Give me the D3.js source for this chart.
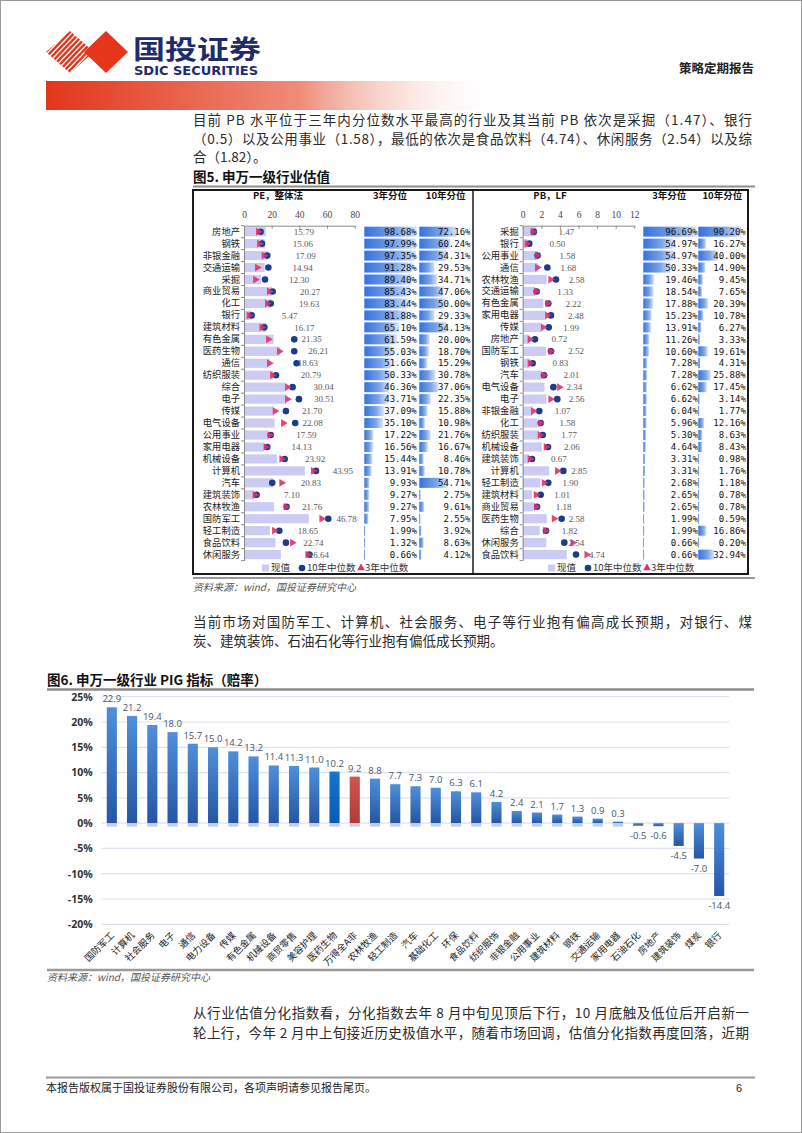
<!DOCTYPE html>
<html><head><meta charset="utf-8">
<script src="https://cdn.jsdelivr.net/npm/d3@7"></script>
<style>body{margin:0;background:#fff}svg{display:block}</style>
</head><body>
<script>
// ---------- DATA ----------
const peCats=["房地产","钢铁","非银金融","交通运输","采掘","商业贸易","化工","银行","建筑材料","有色金属","医药生物","通信","纺织服装","综合","电子","传媒","电气设备","公用事业","家用电器","机械设备","计算机","汽车","建筑装饰","农林牧渔","国防军工","轻工制造","食品饮料","休闲服务"];
const peNow=[15.79,15.06,17.09,14.94,12.30,20.27,19.63,5.47,16.17,21.35,26.21,18.63,20.79,30.04,30.51,21.70,22.08,17.59,14.13,23.92,43.95,20.83,7.10,21.76,46.78,18.65,22.74,26.64];
const peMed10=[12.0,13.0,16.8,17.6,15.2,20.7,19.3,5.5,14.7,36.3,36.3,38.0,23.1,35.1,39.7,30.3,37.0,19.3,16.8,29.4,52.0,20.4,9.1,30.8,60.9,25.5,30.3,47.2];
const peMed3=[10.3,11.1,14.4,9.6,8.2,18.3,16.8,3.6,12.8,17.6,25.5,18.3,20.5,31.3,31.3,22.4,28.4,18.8,15.7,27.2,50.0,27.2,7.9,30.3,56.1,21.9,34.9,46.0];
const pePct3=[98.68,97.99,97.35,91.28,89.40,85.43,83.44,81.88,65.10,61.59,55.03,51.66,50.33,46.36,43.71,37.09,35.10,17.22,16.56,15.44,13.91,9.93,9.27,9.27,7.95,1.99,1.32,0.66];
const pePct10=[72.16,60.24,54.31,29.53,34.71,47.06,50.00,29.33,54.13,20.00,18.70,15.29,30.78,37.06,22.35,15.88,10.98,21.76,16.67,8.46,10.78,54.71,2.75,9.61,2.55,3.92,8.63,4.12];
const peTicks=[0,20,40,60,80];

const pbCats=["采掘","银行","公用事业","通信","农林牧渔","交通运输","有色金属","家用电器","传媒","房地产","国防军工","钢铁","汽车","电气设备","电子","非银金融","化工","纺织服装","机械设备","建筑装饰","计算机","轻工制造","建筑材料","商业贸易","医药生物","综合","休闲服务","食品饮料"];
const pbNow=[1.47,0.50,1.58,1.68,2.58,1.33,2.22,2.48,1.99,0.72,2.52,0.83,2.01,2.34,2.56,1.07,1.58,1.77,2.06,0.67,2.85,1.90,1.01,1.18,2.58,1.82,2.54,4.74];
const pbMed10=[1.2,0.71,1.6,2.65,3.58,1.5,2.75,3.04,2.8,1.32,3.04,1.07,2.29,3.3,3.72,1.78,1.93,2.15,2.72,1.0,4.37,2.75,1.93,1.55,4.19,2.5,4.47,5.73];
const pbMed3=[1.1,0.45,1.55,1.57,3.0,1.45,2.7,2.65,2.2,0.78,3.0,0.78,2.25,3.94,3.0,1.14,1.9,1.86,2.5,0.78,3.72,2.29,1.43,1.45,3.37,2.45,5.38,6.88];
const pbPct3=[96.69,54.97,54.97,50.33,19.46,18.54,17.88,15.23,13.91,11.26,10.60,7.28,7.28,6.62,6.62,6.04,5.96,5.30,4.64,3.31,3.31,2.68,2.65,2.65,1.99,1.99,0.66,0.66];
const pbPct10=[90.20,16.27,40.00,14.90,9.45,7.65,20.39,10.78,6.27,3.33,19.61,4.31,25.88,17.45,3.14,1.77,12.16,8.63,8.43,0.98,1.76,1.18,0.78,0.78,0.59,16.86,0.20,32.94];
const pbTicks=[0,2,4,6,8,10,12];

const pigCats=["国防军工","计算机","社会服务","电子","通信","电力设备","传媒","有色金属","机械设备","商贸零售","美容护理","医药生物","万得全A非","农林牧渔","轻工制造","汽车","基础化工","环保","食品饮料","纺织服饰","非银金融","公用事业","建筑材料","钢铁","交通运输","家用电器","石油石化","房地产","建筑装饰","煤炭","银行"];
const pigVals=[22.9,21.2,19.4,18.0,15.7,15.0,14.2,13.2,11.4,11.3,11.0,10.2,9.2,8.8,7.7,7.3,7.0,6.3,6.1,4.2,2.4,2.1,1.7,1.3,0.9,0.3,-0.5,-0.6,-4.5,-7.0,-14.4];
const pigTicks=[25,20,15,10,5,0,-5,-10,-15,-20];

// ---------- SETUP ----------
const CJK='"Noto Sans CJK SC","Noto Sans",sans-serif';
const svg=d3.select("body").append("svg").attr("width",802).attr("height",1133);
svg.append("rect").attr("x",0.5).attr("y",0.5).attr("width",801).attr("height",1132).attr("fill","#fff").attr("stroke","#9a9a9a");
const defs=svg.append("defs");
function lg(id,stops,x2,y2){const g=defs.append("linearGradient").attr("id",id).attr("x1",0).attr("y1",0).attr("x2",x2).attr("y2",y2);
  stops.forEach(s=>g.append("stop").attr("offset",s[0]).attr("stop-color",s[1]).attr("stop-opacity",s[2]==null?1:s[2]));}
lg("hdr",[[0,"#e2361a"],[0.55,"#ef8b78"],[1,"#ffffff",0]],1,0);
lg("pct",[[0,"#3573dc"],[0.6,"#7aa3e9"],[1,"#d6e3f9"]],1,0);
lg("pigB",[[0,"#4f8fdc"],[1,"#2456a3"]],0,1);
lg("pigM",[[0,"#1674cf"],[1,"#0b5aae"]],0,1);
lg("pigR",[[0,"#cf5651"],[1,"#b03d39"]],0,1);

// ---------- HEADER ----------
const logoRed="#e5361b";
defs.append("clipPath").attr("id","stripeClip").append("polygon").attr("points","46,52 70,31 94,52 70,73");
const sg=svg.append("g").attr("clip-path","url(#stripeClip)");
d3.range(-10,16).forEach(i=>{const bx=30+i*5.2;
  sg.append("line").attr("x1",bx).attr("y1",74).attr("x2",bx+42).attr("y2",30).attr("stroke",logoRed).attr("stroke-width",2.4);});
svg.append("polygon").attr("points","84,52 106,31 128,52 106,73").attr("fill",logoRed);
svg.append("text").attr("x",133).attr("y",58.5).attr("font-family",CJK).attr("font-weight","bold").attr("font-size",26)
  .attr("fill","#1e2b6c").attr("textLength",128).attr("lengthAdjust","spacingAndGlyphs").text("国投证券");
svg.append("text").attr("x",134).attr("y",74.5).attr("font-family",'"DejaVu Sans Condensed","DejaVu Sans",sans-serif').attr("font-weight","bold").attr("font-size",12)
  .attr("fill","#1e2b6c").attr("textLength",124).attr("lengthAdjust","spacingAndGlyphs").text("SDIC SECURITIES");
svg.append("text").attr("x",754).attr("y",72.5).attr("text-anchor","end").attr("font-family",CJK).attr("font-weight","bold").attr("font-size",12.5).attr("fill","#222").text("策略定期报告");
svg.append("rect").attr("x",46).attr("y",81).attr("width",460).attr("height",29).attr("fill","url(#hdr)");

function para(lines,x,y0,lh,w,fs){
  lines.forEach((l,i)=>{const t=svg.append("text").attr("x",x).attr("y",y0+i*lh).attr("font-family",CJK).attr("font-size",fs||13.5).attr("fill","#2a2a2a").text(l[0]);
    if(l[1]) t.attr("textLength",w).attr("lengthAdjust","spacing");});
}
para([["目前 PB 水平位于三年内分位数水平最高的行业及其当前 PB 依次是采掘（1.47）、银行",1],
      ["（0.5）以及公用事业（1.58），最低的依次是食品饮料（4.74）、休闲服务（2.54）以及综",1],
      ["合（1.82）。",0]],193,125,18.7,559);
svg.append("text").attr("x",193).attr("y",181.5).attr("font-family",CJK).attr("font-weight","bold").attr("font-size",13.5).attr("fill","#111").text("图5. 申万一级行业估值");
svg.append("line").attr("x1",193).attr("x2",755).attr("y1",186.5).attr("y2",186.5).attr("stroke","#8c8c8c").attr("stroke-width",2);

// ---------- FIGURE 5 ----------
svg.append("rect").attr("x",193).attr("y",190).attr("width",555).attr("height",384).attr("fill","#fff").attr("stroke","#1a1a1a").attr("stroke-width",2);
svg.append("line").attr("x1",473).attr("x2",473).attr("y1",190).attr("y2",574).attr("stroke","#1a1a1a").attr("stroke-width",1.5);
svg.append("line").attr("x1",193).attr("x2",755).attr("y1",578).attr("y2",578).attr("stroke","#9a9a9a").attr("stroke-width",2);

function panel(c){
  const g=svg.append("g");
  const y=d3.scaleBand().domain(c.cats).range([225.7,560.6]);
  const x=d3.scaleLinear().domain([0,c.max]).range([c.x0,c.x1]);
  const mid=d=>y(d)+y.bandwidth()/2;
  const hdr=(t,xx)=>g.append("text").attr("x",xx).attr("y",198.5).attr("text-anchor","middle").attr("font-family",CJK).attr("font-weight","bold").attr("font-size",9.5).attr("fill","#111").text(t);
  hdr(c.title,c.titleX); hdr("3年分位",c.h3); hdr("10年分位",c.h10);
  g.selectAll(".cur").data(c.cats).join("rect").attr("x",x(0)).attr("y",d=>mid(d)-4.6).attr("height",9.2)
    .attr("width",(d,i)=>x(c.now[i])-x(0)).attr("fill","#cbcbf3");
  const ax=g.append("g").attr("transform","translate(0,225.7)").call(d3.axisTop(x).tickValues(c.ticks).tickSizeInner(-3).tickSizeOuter(0).tickPadding(8));
  ax.selectAll("path,line").attr("stroke","#8a8a8a");
  ax.selectAll("text").attr("font-family",'"Liberation Serif",serif').attr("font-size",9.5).attr("fill","#444");
  const ay=g.append("g").attr("transform",`translate(${c.x0},0)`).call(d3.axisLeft(y).tickSize(0).tickPadding(4));
  ay.select("path").attr("stroke","#8a8a8a");
  ay.selectAll("text").attr("font-family",CJK).attr("font-size",9.3).attr("fill","#222");
  g.selectAll(".tk").data(d3.range(c.cats.length+1)).join("line").attr("x1",c.x0-3).attr("x2",c.x0)
    .attr("y1",i=>225.7+i*y.step()).attr("y2",i=>225.7+i*y.step()).attr("stroke","#8a8a8a");
  g.selectAll(".m10").data(c.cats).join("circle").attr("cx",(d,i)=>x(c.m10[i])).attr("cy",mid).attr("r",3.3).attr("fill","#1b3b8b");
  const tri=d3.symbol(d3.symbolTriangle,26);
  g.selectAll(".m3").data(c.cats).join("path").attr("d",tri).attr("fill","#e3306a").attr("fill-opacity",0.9)
    .attr("transform",(d,i)=>`translate(${x(c.m3[i])},${mid(d)}) rotate(90)`);
  g.selectAll(".vl").data(c.cats).join("text").attr("x",(d,i)=>x(c.now[i])+c.lblOff).attr("y",mid).attr("dy","0.35em")
    .attr("text-anchor","middle").attr("font-family",'"Liberation Serif",serif').attr("font-size",9).attr("fill","#5a5a5a")
    .text((d,i)=>c.now[i].toFixed(2));
  [[c.p3,c.b3x,c.b3w],[c.p10,c.b10x,c.b10w]].forEach(([vals,bx,bw])=>{
    const s=d3.scaleLinear().domain([0,100]).range([0,bw]);
    g.selectAll(null).data(c.cats).join("rect").attr("x",bx).attr("y",d=>mid(d)-5).attr("height",10)
      .attr("width",(d,i)=>Math.max(1,s(vals[i]))).attr("fill","url(#pct)");
    g.selectAll(null).data(c.cats).join("text").attr("x",bx+bw-0.5).attr("y",mid).attr("dy","0.36em").attr("text-anchor","end")
      .attr("font-family",'"DejaVu Sans Mono","Liberation Mono",monospace').attr("font-size",9).attr("fill","#111")
      .text((d,i)=>vals[i].toFixed(2)+"%");
  });
  const lgd=g.append("g").attr("transform",`translate(${c.legX},568)`);
  lgd.append("rect").attr("x",0).attr("y",-3.5).attr("width",7).attr("height",7).attr("fill","#cbcbf3");
  lgd.append("text").attr("x",9).attr("dy","0.36em").attr("font-family",CJK).attr("font-size",9.5).attr("fill","#333").text("现值");
  lgd.append("circle").attr("cx",40).attr("r",3.3).attr("fill","#1b3b8b");
  lgd.append("text").attr("x",45).attr("dy","0.36em").attr("font-family",CJK).attr("font-size",9.5).attr("fill","#333").text("10年中位数");
  lgd.append("path").attr("d",d3.symbol(d3.symbolTriangle,26)).attr("transform","translate(99,0)").attr("fill","#e3306a");
  lgd.append("text").attr("x",103).attr("dy","0.36em").attr("font-family",CJK).attr("font-size",9.5).attr("fill","#333").text("3年中位数");
}
panel({cats:peCats,now:peNow,m10:peMed10,m3:peMed3,p3:pePct3,p10:pePct10,max:80,ticks:peTicks,x0:244,x1:354.7,
  title:"PE，整体法",titleX:278,h3:390,h10:445.7,b3x:364.3,b3w:53,b10x:419.3,b10w:51.7,lblOff:38,legX:262});
panel({cats:pbCats,now:pbNow,m10:pbMed10,m3:pbMed3,p3:pbPct3,p10:pbPct10,max:12,ticks:pbTicks,x0:522.7,x1:634.3,
  title:"PB，LF",titleX:550,h3:669.3,h10:722.3,b3x:643.3,b3w:55,b10x:698.3,b10w:48,lblOff:30,legX:548});

svg.append("text").attr("x",193).attr("y",591).attr("font-family",CJK).attr("font-style","italic").attr("font-size",10).attr("fill","#555").text("资料来源：wind，国投证券研究中心");

para([["当前市场对国防军工、计算机、社会服务、电子等行业抱有偏高成长预期，对银行、煤",1],
      ["炭、建筑装饰、石油石化等行业抱有偏低成长预期。",0]],193,627,19.3,559);

// ---------- FIGURE 6 ----------
svg.append("text").attr("x",47).attr("y",685).attr("font-family",CJK).attr("font-weight","bold").attr("font-size",13.5).attr("fill","#111").text("图6. 申万一级行业 PIG 指标（赔率）");
svg.append("line").attr("x1",47).attr("x2",754).attr("y1",689.5).attr("y2",689.5).attr("stroke","#8c8c8c").attr("stroke-width",2.5);

const xb=d3.scaleBand().domain(pigCats).range([101.7,729.3]).paddingInner(0.5).paddingOuter(0.25);
const yb=d3.scaleLinear().domain([-20,25]).range([924.3,696.7]);
const f6=svg.append("g");
f6.selectAll(".grid").data(pigTicks).join("line").attr("x1",101.7).attr("x2",729.3).attr("y1",d=>yb(d)).attr("y2",d=>yb(d))
  .attr("stroke","#dce3ef").attr("stroke-width",1.2);
const yax=f6.append("g").attr("transform","translate(101.7,0)").call(d3.axisLeft(yb).tickValues(pigTicks).tickSize(0).tickPadding(9).tickFormat(d=>d+"%"));
yax.select("path").remove();
yax.selectAll("text").attr("font-family",'"Open Sans",sans-serif').attr("font-weight","bold").attr("font-size",10.5).attr("fill","#333");
f6.selectAll(".refl").data(pigCats.filter((d,i)=>pigVals[i]>0)).join("rect").attr("x",d=>xb(d)).attr("width",xb.bandwidth())
  .attr("y",yb(0)+0.5).attr("height",3).attr("fill","#c3cfe4");
f6.selectAll(".bar").data(pigCats).join("rect").attr("x",d=>xb(d)).attr("width",xb.bandwidth())
  .attr("y",(d,i)=>yb(Math.max(0,pigVals[i]))).attr("height",(d,i)=>Math.abs(yb(pigVals[i])-yb(0)))
  .attr("fill",(d,i)=>d==="万得全A非"?"url(#pigR)":(d==="医药生物"?"url(#pigM)":"url(#pigB)"));
f6.selectAll(".val").data(pigCats).join("text").attr("x",d=>xb(d)+xb.bandwidth()/2)
  .attr("y",(d,i)=>pigVals[i]>=0?yb(pigVals[i])-5:yb(pigVals[i])+13).attr("text-anchor","middle")
  .attr("font-family",'"Open Sans",sans-serif').attr("font-size",9.5).attr("fill","#44546a").text((d,i)=>pigVals[i].toFixed(1));
f6.selectAll(".xl").data(pigCats).join("text")
  .attr("transform",d=>`translate(${xb(d)+xb.bandwidth()/2+3},936) rotate(-45)`).attr("text-anchor","end")
  .attr("font-family",CJK).attr("font-size",9.3).attr("fill","#222").text(d=>d);
svg.append("line").attr("x1",47).attr("x2",754).attr("y1",970).attr("y2",970).attr("stroke","#9a9a9a").attr("stroke-width",2.5);
svg.append("text").attr("x",47).attr("y",981).attr("font-family",CJK).attr("font-style","italic").attr("font-size",10).attr("fill","#555").text("资料来源：wind，国投证券研究中心");

para([["从行业估值分化指数看，分化指数去年 8 月中旬见顶后下行，10 月底触及低位后开启新一",1],
      ["轮上行，今年 2 月中上旬接近历史极值水平，随着市场回调，估值分化指数再度回落，近期",1]],193,1018,20,556);

// ---------- FOOTER ----------
svg.append("line").attr("x1",46).attr("x2",755).attr("y1",1077.5).attr("y2",1077.5).attr("stroke","#9a9a9a").attr("stroke-width",2);
svg.append("text").attr("x",46).attr("y",1092).attr("font-family",CJK).attr("font-size",11).attr("fill","#222").text("本报告版权属于国投证券股份有限公司，各项声明请参见报告尾页。");
svg.append("text").attr("x",742).attr("y",1092).attr("text-anchor","end").attr("font-family",'"Liberation Sans",sans-serif').attr("font-size",11).attr("fill","#222").text("6");
</script>
</body></html>
